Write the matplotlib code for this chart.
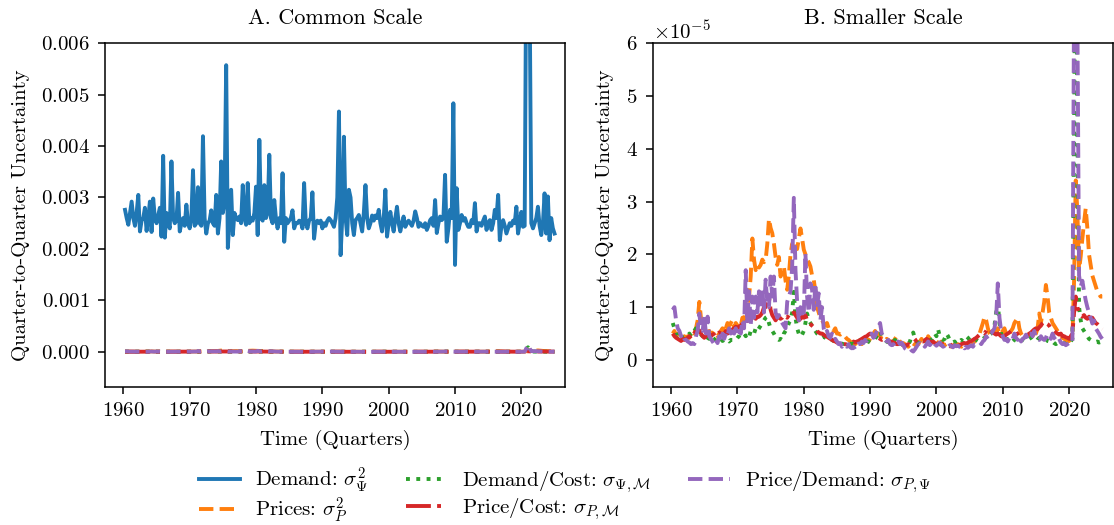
import numpy as np
import pandas as pd
import matplotlib
matplotlib.use("Agg")
import matplotlib.pyplot as plt

plt.rcParams["font.family"] = "serif"
plt.rcParams["font.serif"] = ["cmr10", "DejaVu Serif"]
plt.rcParams["mathtext.fontset"] = "cm"
plt.rcParams["axes.formatter.use_mathtext"] = True
plt.rcParams["axes.unicode_minus"] = False

# quarterly time axis, 1960Q1 .. 2024Q4
quarters = pd.period_range("1960Q1", "2024Q4", freq="Q")
t = quarters.year + quarters.quarter / 4.0

# demand uncertainty sigma^2_Psi (x 1e-3), one row per year
demand = [
    2.76, 2.60, 2.47, 2.70,  2.92, 2.60, 2.45, 2.70,  3.05, 2.34, 2.55, 2.60,  2.80, 2.35, 2.60, 2.92,  2.33, 2.98, 2.60, 2.50,
    2.65, 2.80, 2.24, 3.81,  2.22, 2.70, 2.50, 2.40,  3.70, 2.60, 2.50, 2.55,  3.09, 2.34, 2.50, 2.60,  2.45, 2.86, 2.50, 2.40,
    2.60, 3.53, 2.45, 2.50,  3.20, 2.50, 2.45, 4.19,  2.60, 2.30, 2.50, 2.55,  2.75, 2.50, 2.45, 3.05,  2.30, 2.60, 3.70, 2.70,
    2.90, 5.57, 2.02, 2.60,  3.15, 2.27, 2.70, 2.60,  2.56, 2.63, 2.50, 3.24,  2.60, 2.47, 3.28, 2.50,  2.60, 2.55, 2.70, 3.21,
    2.27, 4.12, 2.60, 2.55,  3.24, 2.60, 2.70, 3.83,  2.60, 2.50, 2.95, 2.60,  2.40, 2.60, 2.50, 3.47,  2.14, 2.60, 2.50, 2.55,
    2.60, 2.75, 2.40, 2.50,  2.50, 2.55, 2.53, 2.40,  3.28, 2.50, 2.40, 2.55,  2.60, 3.10, 2.20, 2.50,  2.55, 2.50, 2.55, 2.40,
    2.50, 2.45, 2.55, 2.60,  2.56, 2.50, 2.43, 2.60,  3.00, 4.67, 1.88, 2.60,  4.18, 2.60, 2.27, 3.15,  3.00, 2.50, 2.27, 2.56,
    2.60, 2.66, 2.50, 2.34,  2.70, 3.24, 2.60, 2.40,  2.50, 2.65, 2.55, 2.65,  2.60, 2.76, 2.50, 2.34,  2.60, 3.15, 2.24, 2.50,
    2.72, 2.50, 2.34, 2.60,  2.82, 2.50, 2.34, 2.50,  2.63, 2.43, 2.50, 2.55,  2.50, 2.45, 2.55, 2.73,  2.60, 2.43, 2.50, 2.45,
    2.43, 2.50, 2.37, 2.45,  2.56, 2.60, 2.45, 2.95,  2.31, 2.50, 2.63, 2.56,  2.60, 3.44, 2.14, 2.40,  2.76, 2.60, 4.83, 1.69,
    3.18, 2.37, 2.50, 2.66,  2.55, 2.60, 2.50, 2.43,  2.43, 2.56, 2.50, 2.89,  2.34, 2.50, 2.50, 2.45,  2.55, 2.63, 2.37, 2.50,
    2.56, 2.37, 2.50, 2.76,  2.60, 3.05, 2.17, 2.45,  2.56, 2.45, 2.30, 2.40,  2.50, 2.45, 2.55, 2.50,  2.82, 2.30, 2.50, 2.72,
    2.43, 2.45, 8.00, 13.6,  7.00, 2.50, 2.40, 2.50,  2.60, 2.82, 2.45, 2.27,  2.50, 3.08, 2.30, 3.02,  2.17, 2.60, 2.40, 2.30,
]

# prices sigma^2_P (x 1e-5)
prices = [
    0.50, 0.55, 0.45, 0.50,  0.45, 0.40, 0.42, 0.45,  0.40, 0.45, 0.42, 0.50,  0.55, 0.50, 0.60, 0.75,  1.10, 0.80, 0.65, 0.60,
    0.55, 0.50, 0.55, 0.50,  0.50, 0.55, 0.50, 0.45,  0.50, 0.55, 0.60, 0.50,  0.60, 0.70, 0.65, 0.70,  0.76, 0.60, 0.70, 0.65,
    0.70, 0.65, 0.80, 0.75,  0.98, 0.85, 1.20, 1.58,  2.30, 1.90, 1.70, 1.80,  1.75, 1.80, 1.90, 1.85,  1.89, 2.20, 2.67, 2.50,
    2.40, 2.20, 1.95, 1.80,  1.95, 1.58, 1.70, 1.77,  1.50, 1.33, 1.60, 2.00,  2.20, 2.00, 2.15, 2.10,  2.30, 2.49, 2.30, 2.09,
    2.00, 1.90, 1.85, 1.77,  1.60, 1.52, 1.30, 1.00,  0.90, 0.80, 0.75, 0.70,  0.65, 0.70, 0.60, 0.62,  0.60, 0.55, 0.60, 0.50,
    0.50, 0.48, 0.50, 0.45,  0.44, 0.40, 0.38, 0.35,  0.32, 0.31, 0.30, 0.33,  0.35, 0.33, 0.30, 0.35,  0.38, 0.40, 0.35, 0.40,
    0.45, 0.50, 0.55, 0.50,  0.50, 0.45, 0.40, 0.38,  0.35, 0.40, 0.38, 0.35,  0.32, 0.35, 0.40, 0.45,  0.40, 0.35, 0.30, 0.32,
    0.30, 0.28, 0.25, 0.30,  0.28, 0.25, 0.30, 0.32,  0.30, 0.35, 0.40, 0.35,  0.30, 0.33, 0.45, 0.40,  0.35, 0.40, 0.38, 0.35,
    0.33, 0.30, 0.35, 0.30,  0.28, 0.30, 0.32, 0.28,  0.25, 0.27, 0.30, 0.28,  0.30, 0.28, 0.25, 0.27,  0.30, 0.28, 0.32, 0.30,
    0.28, 0.32, 0.35, 0.40,  0.45, 0.50, 0.60, 0.70,  0.82, 0.75, 0.60, 0.50,  0.45, 0.50, 0.55, 0.50,  0.60, 0.50, 0.45, 0.55,
    0.60, 0.50, 0.45, 0.50,  0.55, 0.60, 0.70, 0.75,  0.80, 0.60, 0.50, 0.45,  0.50, 0.45, 0.48, 0.45,  0.50, 0.45, 0.55, 0.50,
    0.60, 0.88, 0.70, 0.90,  1.10, 1.42, 1.20, 0.90,  0.80, 0.70, 0.65, 0.60,  0.55, 0.50, 0.45, 0.42,  0.40, 0.38, 0.35, 0.36,
    0.40, 0.42, 1.50, 3.40,  2.80, 1.70, 1.96, 2.30,  2.60, 2.87, 2.50, 2.00,  1.80, 1.60, 1.50, 1.40,  1.30, 1.25, 1.20, 1.20,
]

# demand/cost covariance sigma_{Psi,M} (x 1e-5)
demand_cost = [
    0.70, 0.60, 0.50, 0.45,  0.50, 0.45, 0.42, 0.44,  0.45, 0.44, 0.50, 0.45,  0.50, 0.55, 0.60, 0.55,  0.50, 0.48, 0.45, 0.50,
    0.45, 0.42, 0.40, 0.45,  0.40, 0.38, 0.42, 0.40,  0.38, 0.40, 0.36, 0.38,  0.40, 0.38, 0.35, 0.38,  0.38, 0.40, 0.38, 0.42,
    0.45, 0.55, 0.63, 0.50,  0.45, 0.50, 0.44, 0.55,  0.55, 0.50, 0.60, 0.55,  0.60, 0.65, 0.70, 0.75,  0.80, 0.82, 0.70, 0.60,
    0.55, 0.50, 0.44, 0.40,  0.38, 0.40, 0.38, 0.50,  0.55, 0.60, 0.70, 0.75,  0.90, 1.29, 0.80, 0.60,  0.50, 0.44, 0.48, 0.55,
    0.70, 0.88, 0.75, 0.70,  0.65, 0.60, 0.55, 0.50,  0.48, 0.45, 0.42, 0.44,  0.42, 0.40, 0.38, 0.40,  0.38, 0.36, 0.35, 0.33,
    0.32, 0.30, 0.31, 0.30,  0.30, 0.29, 0.30, 0.31,  0.30, 0.32, 0.30, 0.33,  0.35, 0.38, 0.36, 0.40,  0.38, 0.36, 0.35, 0.33,
    0.35, 0.38, 0.40, 0.45,  0.50, 0.55, 0.45, 0.40,  0.38, 0.35, 0.33, 0.30,  0.32, 0.35, 0.38, 0.35,  0.33, 0.35, 0.30, 0.28,
    0.30, 0.28, 0.30, 0.35,  0.45, 0.52, 0.40, 0.35,  0.33, 0.30, 0.28, 0.30,  0.35, 0.40, 0.45, 0.40,  0.38, 0.45, 0.50, 0.45,
    0.58, 0.45, 0.40, 0.38,  0.40, 0.50, 0.45, 0.38,  0.35, 0.33, 0.35, 0.30,  0.32, 0.35, 0.38, 0.35,  0.40, 0.45, 0.42, 0.38,
    0.35, 0.38, 0.40, 0.38,  0.36, 0.35, 0.38, 0.40,  0.42, 0.45, 0.50, 0.48,  0.50, 0.55, 0.65, 0.90,  1.08, 0.70, 0.50, 0.42,
    0.40, 0.42, 0.38, 0.40,  0.45, 0.42, 0.38, 0.36,  0.38, 0.40, 0.42, 0.38,  0.36, 0.35, 0.38, 0.40,  0.42, 0.45, 0.48, 0.45,
    0.42, 0.40, 0.38, 0.36,  0.38, 0.40, 0.36, 0.35,  0.33, 0.35, 0.32, 0.30,  0.32, 0.30, 0.28, 0.30,  0.32, 0.30, 0.33, 0.35,
    0.35, 0.40, 4.40, 9.00,  4.40, 1.00, 0.75, 0.60,  0.55, 0.50, 0.45, 0.40,  0.38, 0.36, 0.35, 0.34,  0.35, 0.33, 0.34, 0.34,
]

# price/cost covariance sigma_{P,M} (x 1e-5)
price_cost = [
    0.50, 0.45, 0.42, 0.40,  0.38, 0.36, 0.40, 0.38,  0.40, 0.42, 0.45, 0.40,  0.45, 0.50, 0.56, 0.50,  0.56, 0.50, 0.45, 0.42,
    0.45, 0.50, 0.48, 0.45,  0.48, 0.50, 0.55, 0.50,  0.52, 0.50, 0.55, 0.50,  0.55, 0.50, 0.52, 0.55,  0.58, 0.60, 0.63, 0.60,
    0.63, 0.65, 0.70, 0.68,  0.70, 0.75, 0.72, 0.75,  0.75, 0.80, 0.78, 0.82,  0.82, 0.85, 0.90, 1.00,  1.00, 1.10, 1.20, 0.95,
    0.85, 0.80, 0.75, 0.80,  0.82, 0.78, 0.80, 0.85,  0.82, 0.80, 0.85, 0.88,  0.85, 0.90, 0.85, 0.80,  0.75, 0.78, 0.82, 0.80,
    0.85, 0.75, 0.70, 0.68,  0.65, 0.62, 0.60, 0.55,  0.52, 0.50, 0.50, 0.48,  0.45, 0.44, 0.42, 0.40,  0.38, 0.36, 0.35, 0.33,
    0.32, 0.30, 0.31, 0.30,  0.30, 0.29, 0.30, 0.31,  0.32, 0.35, 0.33, 0.35,  0.36, 0.38, 0.40, 0.42,  0.44, 0.45, 0.48, 0.50,
    0.48, 0.45, 0.43, 0.40,  0.42, 0.40, 0.38, 0.40,  0.38, 0.36, 0.35, 0.33,  0.35, 0.33, 0.32, 0.30,  0.30, 0.32, 0.30, 0.28,
    0.27, 0.28, 0.30, 0.28,  0.30, 0.32, 0.35, 0.38,  0.40, 0.38, 0.36, 0.35,  0.37, 0.40, 0.38, 0.35,  0.33, 0.35, 0.32, 0.30,
    0.31, 0.30, 0.28, 0.30,  0.29, 0.28, 0.27, 0.26,  0.28, 0.30, 0.27, 0.26,  0.27, 0.28, 0.30, 0.31,  0.32, 0.30, 0.33, 0.35,
    0.36, 0.38, 0.40, 0.42,  0.45, 0.48, 0.50, 0.52,  0.50, 0.55, 0.60, 0.58,  0.55, 0.52, 0.50, 0.48,  0.50, 0.48, 0.45, 0.44,
    0.45, 0.48, 0.50, 0.52,  0.55, 0.52, 0.50, 0.48,  0.50, 0.52, 0.50, 0.48,  0.47, 0.45, 0.47, 0.50,  0.52, 0.55, 0.58, 0.60,
    0.58, 0.62, 0.65, 0.70,  0.73, 0.70, 0.68, 0.65,  0.60, 0.58, 0.55, 0.52,  0.50, 0.48, 0.50, 0.45,  0.45, 0.43, 0.42, 0.40,
    0.45, 0.50, 0.90, 1.20,  1.00, 0.90, 0.85, 0.82,  0.85, 0.80, 0.78, 0.82,  0.78, 0.80, 0.75, 0.70,  0.68, 0.65, 0.60, 0.58,
]

# price/demand covariance sigma_{P,Psi} (x 1e-5)
price_demand = [
    0.95, 1.00, 0.75, 0.60,  0.55, 0.45, 0.50, 0.40,  0.38, 0.35, 0.33, 0.30,  0.32, 0.30, 0.45, 0.55,  0.88, 0.60, 0.55, 0.82,
    0.50, 0.82, 0.45, 0.40,  0.35, 0.30, 0.38, 0.32,  0.45, 0.35, 0.50, 0.40,  0.50, 0.45, 0.60, 0.50,  0.63, 0.50, 0.60, 0.45,
    0.55, 0.50, 0.75, 0.60,  1.70, 0.70, 1.30, 0.65,  1.20, 0.80, 1.20, 0.90,  1.30, 1.00, 1.36, 0.90,  1.52, 1.10, 1.00, 1.58,
    1.20, 1.58, 0.90, 0.80,  0.85, 0.75, 0.70, 0.65,  0.60, 1.10, 1.20, 1.30,  1.77, 3.07, 1.70, 1.10,  0.75, 1.00, 0.80, 0.85,
    2.02, 1.20, 0.90, 1.45,  1.33, 0.95, 1.45, 1.00,  1.26, 0.75, 1.00, 0.60,  0.50, 0.55, 0.45, 0.42,  0.50, 0.38, 0.40, 0.35,
    0.30, 0.32, 0.25, 0.30,  0.28, 0.25, 0.30, 0.24,  0.22, 0.25, 0.20, 0.28,  0.31, 0.30, 0.35, 0.32,  0.38, 0.36, 0.40, 0.45,
    0.50, 0.42, 0.45, 0.55,  0.63, 0.70, 0.50, 0.45,  0.40, 0.35, 0.38, 0.30,  0.28, 0.30, 0.25, 0.32,  0.35, 0.30, 0.33, 0.28,
    0.22, 0.20, 0.19, 0.22,  0.18, 0.16, 0.20, 0.25,  0.30, 0.32, 0.28, 0.30,  0.25, 0.30, 0.35, 0.28,  0.32, 0.36, 0.30, 0.27,
    0.30, 0.33, 0.28, 0.25,  0.27, 0.30, 0.25, 0.28,  0.26, 0.24, 0.28, 0.26,  0.27, 0.25, 0.24, 0.27,  0.22, 0.25, 0.23, 0.26,
    0.28, 0.25, 0.30, 0.30,  0.32, 0.34, 0.30, 0.35,  0.38, 0.45, 0.40, 0.48,  0.50, 0.55, 0.60, 0.80,  1.45, 0.80, 0.55, 0.45,
    0.38, 0.40, 0.35, 0.42,  0.45, 0.40, 0.50, 0.42,  0.38, 0.45, 0.35, 0.40,  0.42, 0.48, 0.40, 0.50,  0.50, 0.45, 0.55, 0.42,
    0.40, 0.38, 0.45, 0.40,  0.38, 0.42, 0.50, 0.45,  0.40, 0.50, 0.42, 0.38,  0.35, 0.40, 0.33, 0.30,  0.32, 0.28, 0.30, 0.32,
    0.30, 0.35, 7.00, 13.5,  6.50, 1.60, 1.39, 1.50,  1.30, 1.13, 1.00, 0.90,  0.80, 0.69, 0.75, 0.60,  0.55, 0.50, 0.44, 0.40,
]

demand = np.array(demand) * 1e-3
prices = np.array(prices) * 1e-5
demand_cost = np.array(demand_cost) * 1e-5
price_cost = np.array(price_cost) * 1e-5
price_demand = np.array(price_demand) * 1e-5

labels = [r"Demand: $\sigma^2_\Psi$", r"Prices: $\sigma^2_P$",
          r"Demand/Cost: $\sigma_{\Psi,\mathcal{M}}$", r"Price/Cost: $\sigma_{P,\mathcal{M}}$",
          r"Price/Demand: $\sigma_{P,\Psi}$"]
styles = ["-", "--", ":", "-.", "--"]
colors = ["C0", "C1", "C2", "C3", "C4"]
series = [demand, prices, demand_cost, price_cost, price_demand]

fig = plt.figure(figsize=(11.14, 5.25), dpi=100)
ax1 = fig.add_axes([0.0943, 0.263, 0.413, 0.655])
ax2 = fig.add_axes([0.586, 0.263, 0.413, 0.655])

for ax in (ax1, ax2):
    for s, y, ls, c in zip(labels, series, styles, colors):
        if ax is ax2 and y is demand:
            continue
        ax.plot(t, y, ls, color=c, lw=2.8, label=s)
    ax.set_xlim(1957.24, 2026.6)
    ax.set_xlabel("Time (Quarters)", fontsize=15, labelpad=7)
    ax.set_ylabel("Quarter-to-Quarter Uncertainty", fontsize=15, labelpad=8)
    ax.tick_params(labelsize=15, width=1.1, length=5, pad=6)
    for sp in ax.spines.values():
        sp.set_linewidth(1.1)

ax1.set_ylim(-0.00068, 0.006)
ax1.set_title("A. Common Scale", fontsize=16, pad=14)
ax2.set_ylim(-0.51e-5, 6e-5)
ax2.set_title("B. Smaller Scale", fontsize=16, pad=14)
ax2.yaxis.get_offset_text().set_fontsize(15)

handles, labs = ax1.get_legend_handles_labels()
fig.legend(handles, labs, loc="lower center", ncol=3, frameon=False,
           bbox_to_anchor=(0.507, -0.024), fontsize=15, columnspacing=1.8,
           handletextpad=0.7, labelspacing=0.05, borderpad=0.1)

fig.savefig("out.png", dpi=100)
